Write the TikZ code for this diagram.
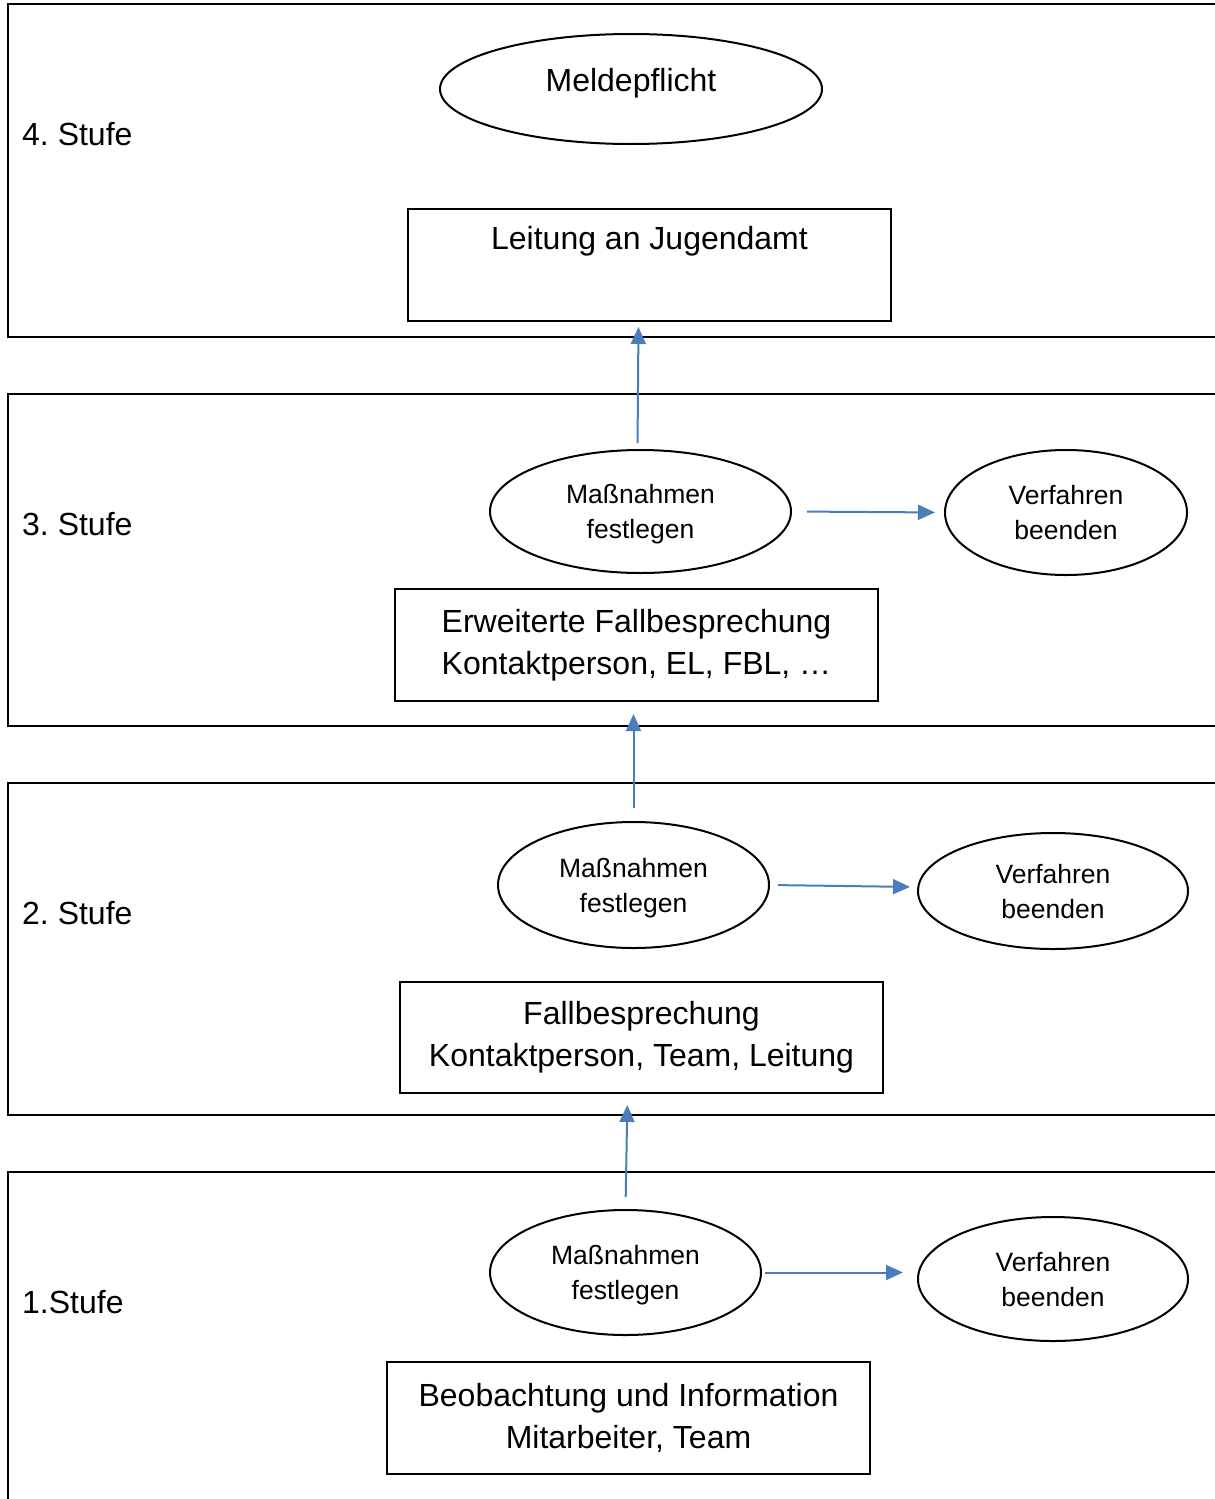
\documentclass[tikz,border=0pt]{standalone}
\usepackage{fontspec}
\setmainfont{Liberation Sans}
\usetikzlibrary{shapes.geometric,arrows.meta}
\definecolor{arrowblue}{HTML}{4A7EBB}
\frenchspacing
\begin{document}
\begin{tikzpicture}[x=1pt,y=-1pt,
  stagebox/.style={draw=black,line width=2pt},
  stagelabel/.style={anchor=west,inner sep=0pt,font=\fontsize{32}{38}\selectfont},
  oval/.style={draw=black,line width=2pt,ellipse,inner sep=0pt,align=center,text depth=0pt,font=\fontsize{26.5}{35}\selectfont},
  bigbox/.style={draw=black,line width=2pt,rectangle,inner sep=0pt,align=center,font=\fontsize{32}{42}\selectfont},
  bigtext/.style={inner sep=0pt,font=\fontsize{32}{38}\selectfont},
  flow/.style={draw=arrowblue,line width=2pt,-{Triangle[length=17pt,width=15pt]}}
]
\useasboundingbox (0,0) rectangle (1215,1499);
\clip (0,0) rectangle (1215,1499);
% stage frames
\draw[stagebox] (1240,4) -- (8,4) -- (8,337) -- (1240,337);
\draw[stagebox] (1240,394) -- (8,394) -- (8,726) -- (1240,726);
\draw[stagebox] (1240,783) -- (8,783) -- (8,1115) -- (1240,1115);
\draw[stagebox] (1240,1172) -- (8,1172) -- (8,1520);
% stage labels
\node[stagelabel] (s4) at (22,134) {4. Stufe};
\node[stagelabel] (s3) at (22,524) {3. Stufe};
\node[stagelabel] (s2) at (22,913) {2. Stufe};
\node[stagelabel] (s1) at (22,1302) {1.Stufe};
% stage 4
\node[oval,minimum width=382pt,minimum height=110pt] (meld) at (631,89) {};
\node[bigtext] (meldt) at (631,83) {Meldepflicht};
\node[bigbox,minimum width=483pt,minimum height=112pt] (r4) at (649.5,265) {};
\node[bigtext] (r4t) at (649.5,241) {Leitung an Jugendamt};
% stage 3
\node[oval,minimum width=301pt,minimum height=123pt] (m3) at (640.5,511.5) {Maßnahmen\\festlegen};
\node[oval,minimum width=242pt,minimum height=125pt] (v3) at (1066,512.5) {Verfahren\\beenden};
\node[bigbox,minimum width=483pt,minimum height=112pt] (r3) at (636.5,645) {Erweiterte Fallbesprechung\\Kontaktperson, EL, FBL, …};
% stage 2
\node[oval,minimum width=271pt,minimum height=126pt] (m2) at (633.5,885) {Maßnahmen\\festlegen};
\node[oval,minimum width=270pt,minimum height=116pt] (v2) at (1053,891) {Verfahren\\beenden};
\node[bigbox,minimum width=483pt,minimum height=111pt] (r2) at (641.5,1037.5) {Fallbesprechung\\Kontaktperson, Team, Leitung};
% stage 1
\node[oval,minimum width=271pt,minimum height=125pt] (m1) at (625.5,1272.5) {Maßnahmen\\festlegen};
\node[oval,minimum width=270pt,minimum height=124pt] (v1) at (1053,1279) {Verfahren\\beenden};
\node[bigbox,minimum width=483pt,minimum height=112pt] (r1) at (628.5,1418) {Beobachtung und Information\\Mitarbeiter, Team};
% connectors
\draw[flow,shorten <=6pt,shorten >=5pt] ([xshift=-3pt]m3.north) -- ([xshift=-2pt]m3.north |- r4.south);
\draw[flow,shorten <=15pt,shorten >=9pt] (m3.east) -- (v3.west);
\draw[flow,shorten <=13pt,shorten >=12pt] (m2.north) -- (m2.north |- r3.south);
\draw[flow,shorten <=8pt,shorten >=7pt] (m2.east) -- ([yshift=4pt]v2.west);
\draw[flow,shorten <=12pt,shorten >=11pt] (m1.north) -- ([xshift=2pt]m1.north |- r2.south);
\draw[flow,shorten <=3pt,shorten >=14pt] (m1.east) -- (m1.east -| v1.west);
\end{tikzpicture}
\end{document}
